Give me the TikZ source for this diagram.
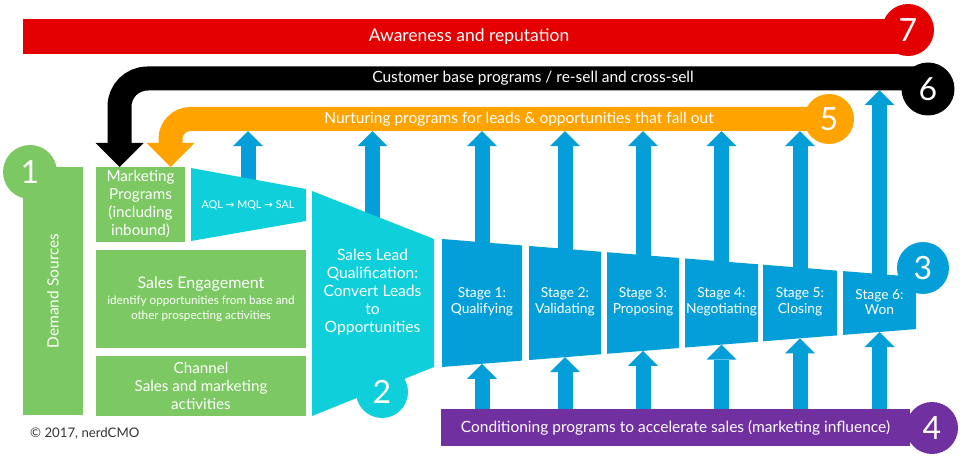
\documentclass[tikz,border=0pt]{standalone}
\usepackage{fontspec}
\setmainfont{Lato}
\newfontfamily\symfont{DejaVu Sans}
\usetikzlibrary{arrows.meta}

\definecolor{awarered}{HTML}{E40000}
\definecolor{nurtureorange}{HTML}{FFA300}
\definecolor{demandgreen}{HTML}{7CC862}
\definecolor{leadcyan}{HTML}{0ECFDA}
\definecolor{stageblue}{HTML}{049FD9}
\definecolor{condpurple}{HTML}{7030A0}
\definecolor{notegray}{HTML}{333333}

\pgfdeclarelayer{bg}
\pgfsetlayers{bg,main}

\begin{document}
\begin{tikzpicture}[x=1pt, y=-1pt,
    bar/.style={inner sep=0pt, text=white},
    num/.style={circle, minimum size=52pt, inner sep=0pt, text=white, font=\fontsize{32}{32}\selectfont},
    greenbox/.style={fill=demandgreen, text=white, inner sep=0pt, align=center, font=\fontsize{15.2}{18}\selectfont},
    funneltext/.style={text=white, align=center, font=\fontsize{15.6}{18}\selectfont},
    stagetext/.style={text=white, align=center, font=\fontsize{13.8}{15.5}\selectfont},
    liftarrow/.style={draw=stageblue, line width=15pt, -{Triangle[width=30pt, length=15pt, line width=0pt]}},
    loopbar/.style={line width=#1, -{Triangle[width=2*#1, length=#1, line width=0pt]}},
  ]
    \useasboundingbox (0,0) rectangle (960,457);

    % Top bars
    \node[bar, fill=awarered, minimum width=892pt, minimum height=35pt,
          font=\fontsize{17.5}{18}\selectfont] (aware) at (469,36.5) {Awareness and reputation};
    \node[num, fill=awarered] (n7) at (908,30) {7};

    \node[bar, minimum height=23pt, font=\fontsize{15.5}{16}\selectfont] (cust) at (533,78.5)
        {Customer base programs / re-sell and cross-sell};
    \node[num, fill=black, minimum size=53pt] (n6) at (928,89) {6};

    \node[bar, minimum height=24pt, font=\fontsize{15.5}{16}\selectfont] (nurt) at (519,119)
        {Nurturing programs for leads \& opportunities that fall out};
    \node[num, fill=nurtureorange, minimum size=50pt] (n5) at (829,119) {5};

    \coordinate (bend6) at (119.5,78.5);
    \coordinate (tip6) at (119.5,167);
    \coordinate (bend5) at (170.5,119);
    \coordinate (tip5) at (170.5,167);

    % Demand sources
    \node[greenbox, rotate=90, minimum width=248pt, minimum height=60pt,
          font=\fontsize{15.5}{18}\selectfont] (demand) at (53,291) {Demand Sources};
    \node[num, fill=demandgreen, minimum size=54pt] (n1) at (30,172) {1};

    \node[greenbox, minimum width=89pt, minimum height=75pt] (mkt) at (140.5,204.5)
        {Marketing\\Programs\\(including\\inbound)};
    \node[greenbox, minimum width=210pt, minimum height=98pt] (eng) at (201,299)
        {{\fontsize{16}{18}\selectfont Sales Engagement}\\[-2pt]
         {\fontsize{11.7}{13.5}\selectfont identify opportunities from base and}\\[-3pt]
         {\fontsize{11.7}{13.5}\selectfont other prospecting activities}};
    \node[greenbox, minimum width=210pt, minimum height=60pt] (chan) at (201,386)
        {Channel\\Sales and marketing\\activities};

    % Lead funnel
    \fill[leadcyan] (191,168) -- (306,189) -- (306,221) -- (191,241) -- cycle;
    \node[text=white, font=\fontsize{10.8}{12}\selectfont] (aql) at (248,205)
        {AQL {\symfont\fontsize{10.5}{12}\selectfont →} MQL {\symfont\fontsize{10.5}{12}\selectfont →} SAL};

    \fill[leadcyan] (312,191) -- (434,239) -- (434,367) -- (312,416) -- cycle;
    \node[funneltext] (slq) at (372.5,292)
        {Sales Lead\\Qualification:\\Convert Leads\\to\\Opportunities};
    \node[num, fill=leadcyan] (n2) at (382,392) {2};

    % Sales stages
    \foreach \xa/\xb/\nm/\lbl in {442/522/s1/{Stage 1:\\Qualifying}, 529/601/s2/{Stage 2:\\Validating},
        607/679/s3/{Stage 3:\\Proposing}, 685/758/s4/{Stage 4:\\Negotiating},
        763/837/s5/{Stage 5:\\Closing}, 843/916/s6/{Stage 6:\\Won}} {
        \pgfmathsetmacro\xm{(\xa+\xb)/2}
        \fill[stageblue] (\xa,{239+(\xa-442)*0.08}) -- (\xb,{239+(\xb-442)*0.08})
            -- (\xb,{367-(\xb-442)*0.08}) -- (\xa,{367-(\xa-442)*0.08}) -- cycle;
        \node[stagetext] (\nm) at (\xm,302) {\lbl};
        \coordinate (\nm-b) at (\xm,{367-(\xm-442)*0.08});
    }
    \node[num, fill=stageblue] (n3) at (923,268) {3};

    % Conditioning
    \node[bar, fill=condpurple, minimum width=469pt, minimum height=37pt,
          font=\fontsize{15.5}{16}\selectfont] (cond) at (675.5,427.5)
        {Conditioning programs to accelerate sales (marketing influence)};
    \node[num, fill=condpurple] (n4) at (932,428) {4};

    \node[anchor=west, inner sep=0pt, text=notegray, font=\fontsize{13.2}{14}\selectfont] (note) at (30,434)
        {\textcopyright\ 2017, nerdCMO};

    % Connectors behind the shapes
    \begin{pgfonlayer}{bg}
        \draw[loopbar=24pt, black, rounded corners=28pt] (n6 |- cust) -- (bend6) -- (tip6);
        \draw[loopbar=24pt, nurtureorange, rounded corners=20pt] (n5 |- nurt) -- (bend5) -- (tip5);
        \foreach \s in {aql,slq,s1,s2,s3,s4,s5}
            \draw[liftarrow] (\s) -- (\s |- nurt.south);
        \draw[liftarrow] (s6) -- (s6 |- cust.south);
        \foreach \s in {s1,s2,s3,s4,s5,s6}
            \draw[liftarrow] (\s-b |- cond.north) -- (\s-b);
    \end{pgfonlayer}
\end{tikzpicture}
\end{document}
